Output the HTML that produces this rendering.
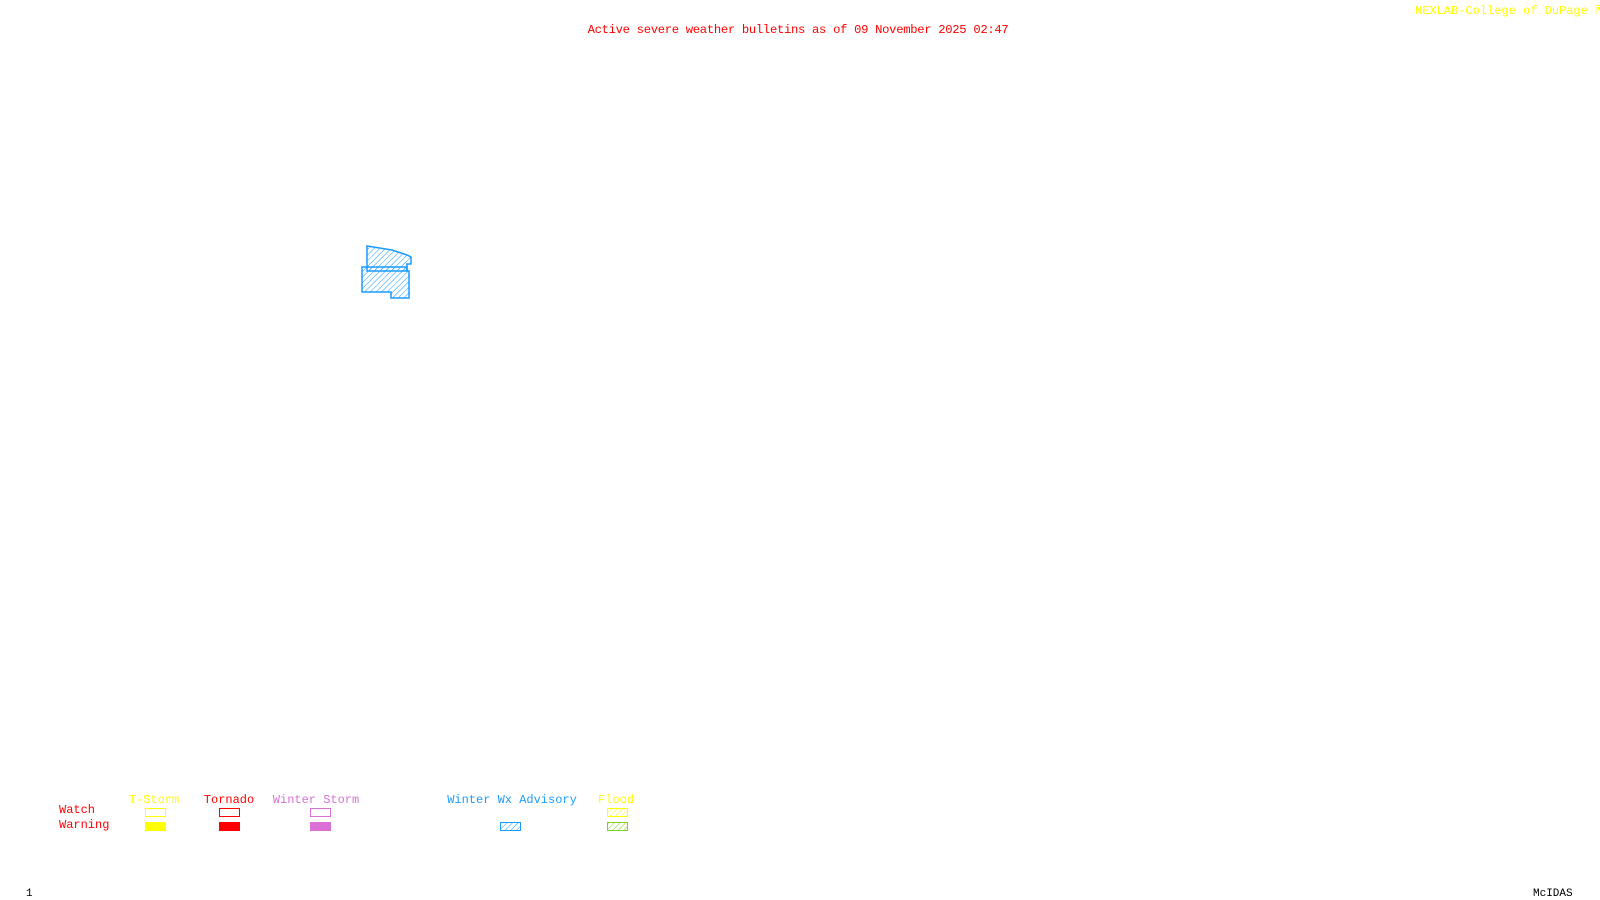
<!DOCTYPE html>
<html><head><meta charset="utf-8"><style>
html,body{margin:0;padding:0;background:#fff;width:1600px;height:900px;overflow:hidden;position:relative}
.t{position:absolute;font-family:"Liberation Mono",monospace;font-size:12px;line-height:12px;white-space:nowrap}
.c{transform:translateX(-50%)}
.b{position:absolute;box-sizing:border-box;width:21px;height:9px}
</style></head><body>
<div class="t c" style="left:798px;top:24px;color:#f00;font-size:12.2px;letter-spacing:-0.3px">Active severe weather bulletins as of 09 November 2025 02:47</div>
<div class="t" style="left:1415px;top:5px;color:#ff0;font-size:12px">NEXLAB-College of DuPage &#x21F1;</div>
<svg width="1600" height="900" style="position:absolute;left:0;top:0">
<defs><pattern id="h" width="4" height="4" patternUnits="userSpaceOnUse" patternTransform="rotate(45)"><line x1="0" y1="0" x2="0" y2="4" stroke="#1a9cff" stroke-width="1"/></pattern>
<pattern id="g" width="4" height="4" patternUnits="userSpaceOnUse" patternTransform="rotate(45)"><line x1="0" y1="0" x2="0" y2="4" stroke="#7dd31f" stroke-width="1"/></pattern>
<pattern id="y" width="4" height="4" patternUnits="userSpaceOnUse" patternTransform="rotate(45)"><line x1="0" y1="0" x2="0" y2="4" stroke="#ff0" stroke-width="1"/></pattern></defs>
<polygon points="367,246 392,250 407,255 411,257 411,264 407,264 407,271 367,271" fill="url(#h)" stroke="#1a9cff" stroke-width="1.5"/>
<polygon points="362,267 407,267 407,271 409,271 409,298 391,298 391,292 362,292" fill="url(#h)" stroke="#1a9cff" stroke-width="1.5"/>
<rect x="500.5" y="822.5" width="20" height="8" fill="url(#h)" stroke="#1a9cff"/>
<rect x="607.5" y="808.5" width="20" height="8" fill="url(#y)" stroke="#ff0"/>
<rect x="607.5" y="822.5" width="20" height="8" fill="url(#g)" stroke="#7dd31f"/>
</svg>
<div class="t c" style="left:154px;top:794px;color:#ff0">T-Storm</div>
<div class="t c" style="left:229px;top:794px;color:#f00">Tornado</div>
<div class="t c" style="left:316px;top:794px;color:#da70d6">Winter Storm</div>
<div class="t c" style="left:512px;top:794px;color:#1a9cff">Winter Wx Advisory</div>
<div class="t c" style="left:616px;top:794px;color:#ff0">Flood</div>
<div class="t" style="left:59px;top:804px;color:#f00">Watch</div>
<div class="t" style="left:59px;top:819px;color:#f00">Warning</div>
<div class="b" style="left:145px;top:808px;border:1px solid #ff0"></div>
<div class="b" style="left:145px;top:822px;background:#ff0"></div>
<div class="b" style="left:219px;top:808px;border:1px solid #f00"></div>
<div class="b" style="left:219px;top:822px;background:#f00"></div>
<div class="b" style="left:310px;top:808px;border:1px solid #da70d6"></div>
<div class="b" style="left:310px;top:822px;background:#da70d6"></div>
<div class="t" style="left:26px;top:888px;color:#000;font-size:11px">1</div>
<div class="t" style="left:1533px;top:888px;color:#000;font-size:11px">McIDAS</div>
</body></html>
